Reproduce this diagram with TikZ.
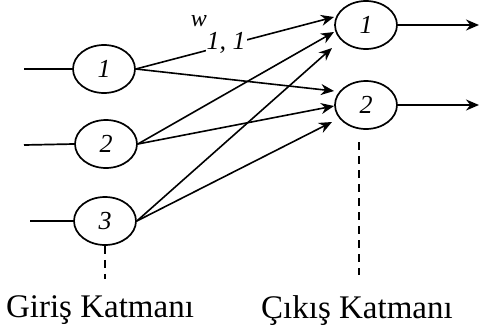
\documentclass[tikz,border=0pt]{standalone}
\usepackage{fontspec}
\setmainfont{Liberation Serif}
\usetikzlibrary{arrows.meta,shapes.geometric}
\begin{document}
\begin{tikzpicture}[x=1pt,y=-1pt,
  neuron/.style={draw=black,ellipse,line width=1.7pt,minimum width=62pt,minimum height=48pt,inner sep=0pt,font=\fontsize{26}{28}\selectfont\itshape},
  conn/.style={line width=1.6pt,-{Stealth[length=13pt,width=11pt]}},
  plain/.style={line width=1.7pt},
  vdash/.style={line width=2pt,dash pattern=on 8pt off 6pt},
  layerlabel/.style={font=\fontsize{33}{38}\selectfont}]
\useasboundingbox (0,0) rectangle (479,335);
% input nodes
\node[neuron] (in1) at (104,69) {1};
\node[neuron] (in2) at (106,144) {2};
\node[neuron] (in3) at (105,221) {3};
% output nodes
\node[neuron] (out1) at (366,25) {1};
\node[neuron] (out2) at (366,105) {2};
% free ends
\coordinate (x1) at (24,69);
\coordinate (x2) at (24,145);
\coordinate (x3) at (30,221);
\coordinate (y1) at (479,25);
\coordinate (y2) at (479,105);
\coordinate (t11) at (334,17);
\coordinate (t21) at (334,32);
\coordinate (t31) at (332,48);
\coordinate (t12) at (334,91);
\coordinate (t22) at (334,106);
\coordinate (t32) at (332,122);
\coordinate (d1) at (105,279);
\coordinate (d2a) at (359,142);
\coordinate (d2b) at (359,275);
% input lines
\draw[plain] (x1) -- (in1.west);
\draw[plain] (x2) -- (in2.west);
\draw[plain] (x3) -- (in3.west);
% connections
\draw[conn] (in1.east) -- (t11);
\draw[conn] (in1.east) -- (t12);
\draw[conn] (in2.east) -- (t21);
\draw[conn] (in2.east) -- (t22);
\draw[conn] (in3.east) -- (t31);
\draw[conn] (in3.east) -- (t32);
% weight label
\node[fill=white,inner sep=1pt,font=\fontsize{24}{26}\selectfont\itshape] (w) at (199,21) {w};
\node[fill=white,inner sep=1pt,font=\fontsize{26}{28}\selectfont\itshape] (wi) at (226,43) {1, 1};
% outputs
\draw[conn] (out1.east) -- (y1);
\draw[conn] (out2.east) -- (y2);
% dashed
\draw[vdash] (in3.south) -- (d1);
\draw[vdash] (d2a) -- (d2b);
% labels
\node[layerlabel] (gl) at (100,310) {Giriş Katmanı};
\node[layerlabel] (cl) at (357,311) {Çıkış Katmanı};
\end{tikzpicture}
\end{document}
